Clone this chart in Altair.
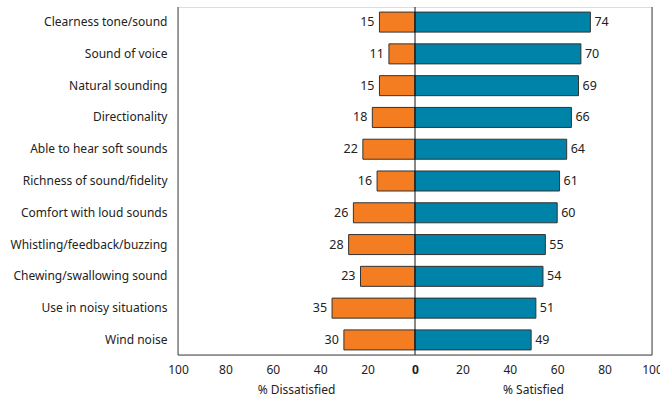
import altair as alt
import pandas as pd

# Survey aspects and shares of respondents
aspects = [
    "Clearness tone/sound", "Sound of voice", "Natural sounding", "Directionality",
    "Able to hear soft sounds", "Richness of sound/fidelity", "Comfort with loud sounds",
    "Whistling/feedback/buzzing", "Chewing/swallowing sound", "Use in noisy situations",
    "Wind noise",
]
dissatisfied = [15, 11, 15, 18, 22, 16, 26, 28, 23, 35, 30]
satisfied = [74, 70, 69, 66, 64, 61, 60, 55, 54, 51, 49]

FONT = "Noto Sans"
FS = 12
ORANGE = "#f47d21"
BLUE = "#0083a8"
BG = "#f0f1f3"
W, H = 474, 348

rows = []
for a, d, s in zip(aspects, dissatisfied, satisfied):
    rows.append({"aspect": a, "side": "Dissatisfied", "value": d, "signed": -d})
    rows.append({"aspect": a, "side": "Satisfied", "value": s, "signed": s})
df = pd.DataFrame(rows)

x_scale = alt.Scale(domain=[-100, 100], nice=False, zero=False)
y_enc = alt.Y(
    "aspect:N", sort=aspects, title=None,
    scale=alt.Scale(paddingInner=0.37, paddingOuter=0.16),
    axis=alt.Axis(ticks=False, domain=False, labelPadding=11, labelFontSize=FS,
                  labelColor="#222", labelFont=FONT),
)

bars = alt.Chart(df).mark_bar(stroke="#333", strokeWidth=1).encode(
    x=alt.X("signed:Q", scale=x_scale, title=None,
            axis=alt.Axis(values=[-100, -80, -60, -40, -20, 0, 20, 40, 60, 80, 100],
                          labelExpr="abs(datum.value)", ticks=False, domain=False,
                          grid=False, labelPadding=9, labelFontSize=FS,
                          labelFlush=False, labelOverlap=False,
                          labelColor="#222", labelFont=FONT,
                          labelFontWeight=alt.expr("datum.value == 0 ? 'bold' : 'normal'"))),
    x2=alt.datum(0),
    y=y_enc,
    color=alt.Color("side:N", scale=alt.Scale(domain=["Dissatisfied", "Satisfied"],
                                              range=[ORANGE, BLUE]), legend=None),
)

left_labels = alt.Chart(df[df.side == "Dissatisfied"]).mark_text(
    align="right", dx=-5, fontSize=FS + 0.5, font=FONT, color="#222"
).encode(x=alt.X("signed:Q", scale=x_scale), y=alt.Y("aspect:N", sort=aspects), text="value:Q")

right_labels = alt.Chart(df[df.side == "Satisfied"]).mark_text(
    align="left", dx=4, fontSize=FS + 0.5, font=FONT, color="#222"
).encode(x=alt.X("signed:Q", scale=x_scale), y=alt.Y("aspect:N", sort=aspects), text="value:Q")

# Frame: left, right and bottom edges plus the zero line
frame = pd.DataFrame({"pos": [-100, 100, 0], "col": ["#444", "#444", "#111"]})
edges = alt.Chart(frame).mark_rule(strokeWidth=1).encode(
    x=alt.X("pos:Q", scale=x_scale), y=alt.value(0), y2=alt.value(H),
    color=alt.Color("col:N", scale=None),
)
bottom = alt.Chart(pd.DataFrame({"a": [0]})).mark_rule(color="#444", strokeWidth=1).encode(
    x=alt.value(0), x2=alt.value(W), y=alt.value(H)
)

titles = alt.Chart(pd.DataFrame({"pos": [-50, 50], "t": ["% Dissatisfied", "% Satisfied"]})).mark_text(
    fontSize=FS, font=FONT, color="#222", baseline="middle"
).encode(x=alt.X("pos:Q", scale=x_scale), y=alt.value(H + 35), text="t:N")

chart = alt.layer(bars, left_labels, right_labels, edges, bottom, titles).properties(
    width=W, height=H,
    autosize=alt.AutoSizeParams(type="none"),
    padding={"left": 178, "top": 7, "right": 8, "bottom": 45},
).configure_view(stroke=None, fill=BG).configure(background="white")

chart.save("out.html", embed_options={"renderer": "svg", "actions": False})
